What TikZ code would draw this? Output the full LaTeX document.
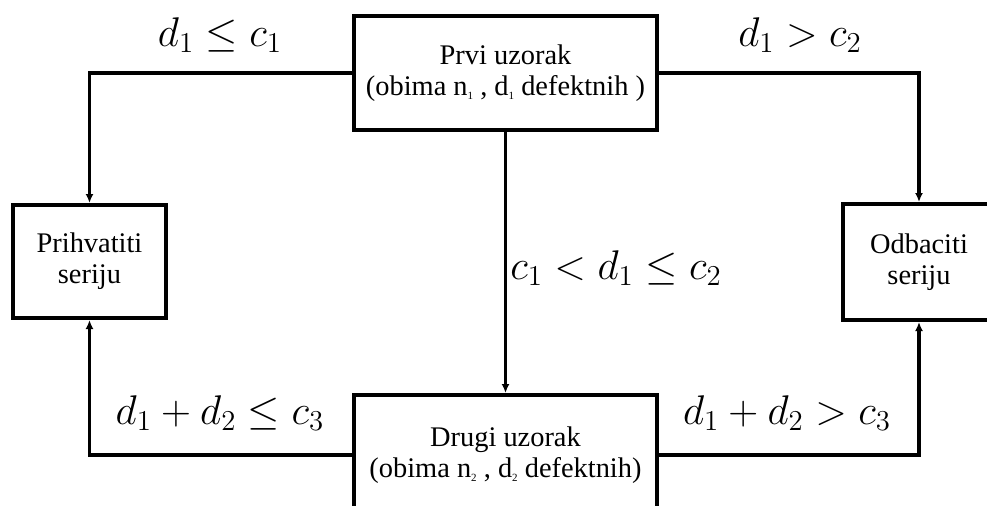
\documentclass[tikz,border=0pt]{standalone}
\usepackage[no-math]{fontspec}
\setmainfont{Liberation Serif}
\usetikzlibrary{arrows.meta}

% tiny subscript used inside the box captions
\newcommand{\tsub}[1]{\raisebox{-0.35ex}{\fontsize{5.5}{5.5}\selectfont #1}}

\tikzset{
  boxnode/.style={draw=black, line width=2pt, fill=white, rectangle, inner sep=0pt,
                  align=center, font=\fontsize{14.2}{15.5}\selectfont},
  conn/.style={line width=1.8pt, line join=miter,
               -{Latex[length=4.5pt,width=4pt]}},
  cond/.style={inner sep=0pt, font=\fontsize{19.5}{23}\selectfont}
}

\begin{document}
\begin{tikzpicture}[x=0.5pt,y=-0.5pt]
\useasboundingbox (0,0) rectangle (987,505);

\node[boxnode, minimum width=151.5pt, minimum height=57pt] (top) at (505.5,73)
  {Prvi uzorak\\(obima n\tsub{1} , d\tsub{1} defektnih )};
\node[boxnode, minimum width=151.5pt, minimum height=60pt] (bot) at (505.5,455)
  {Drugi uzorak\\(obima n\tsub{2} , d\tsub{2} defektnih)};
\node[boxnode, minimum width=76.5pt, minimum height=56.5pt] (acc) at (89.5,261.5)
  {Prihvatiti\\seriju};
\node[boxnode, minimum width=76pt, minimum height=58pt] (rej) at (919,262)
  {Odbaciti\\seriju};

% flow between the boxes
\draw[conn] (top.west) -| (acc.north);
\draw[conn] (top.east) -| (rej.north);
\draw[conn] (top.south) -- (bot.north);
\draw[conn] (bot.west) -| (acc.south);
\draw[conn] (bot.east) -| (rej.south);

% decision conditions
\node[cond] (l1) at (220,35) {$d_1 \le c_1$};
\node[cond] (l2) at (800,35) {$d_1 > c_2$};
\node[cond] (l3) at (616,268) {$c_1 < d_1 \le c_2$};
\node[cond] (l4) at (220,413) {$d_1 + d_2 \le c_3$};
\node[cond] (l5) at (787,413) {$d_1 + d_2 > c_3$};
\end{tikzpicture}
\end{document}
